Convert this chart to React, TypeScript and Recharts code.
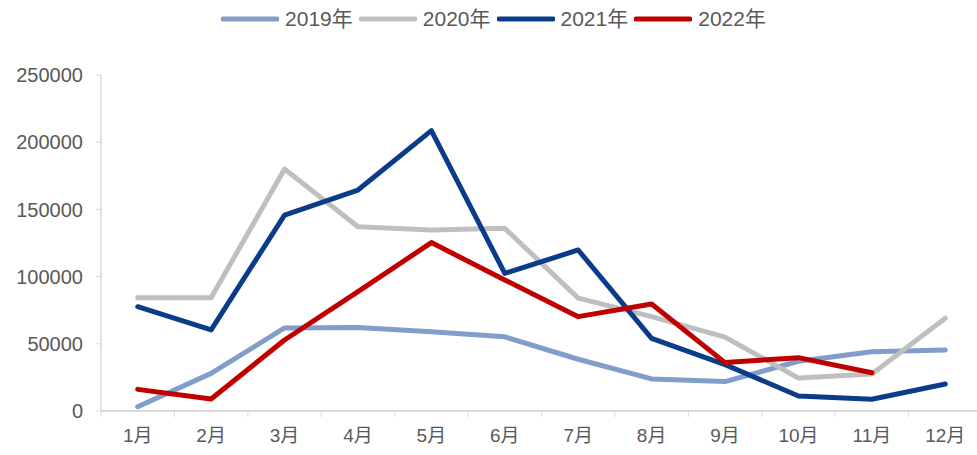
import React from 'react';
import { LineChart, Line, XAxis, YAxis, Legend } from 'recharts';

const months = ['1月', '2月', '3月', '4月', '5月', '6月', '7月', '8月', '9月', '10月', '11月', '12月'];
const y2019 = [3200, 28000, 61800, 62200, 59000, 55200, 38500, 23900, 21900, 37000, 44100, 45400];
const y2020 = [84300, 84300, 180000, 137100, 134700, 135900, 84000, 70200, 55000, 24500, 27500, 69000];
const y2021 = [77600, 60300, 145800, 164400, 208600, 102400, 119800, 54000, 34500, 11200, 8700, 20100];
const y2022 = [16100, 8900, 52800, 88800, 125300, 97500, 70200, 79600, 36000, 39700, 28500, null];
const yTicks = [0, 50000, 100000, 150000, 200000, 250000];

const seriesNames = ['2019年', '2020年', '2021年', '2022年'];
const seriesColors = ['#819DC9', '#BFBFBF', '#0B3C8A', '#C00000'];

const data = months.map((m, i) => ({
  month: m,
  s2019: y2019[i],
  s2020: y2020[i],
  s2021: y2021[i],
  s2022: y2022[i],
}));

const FONT = '"Liberation Sans", Arial, "Noto Sans CJK SC", sans-serif';
const TEXT = '#595959';
const AXIS = '#D9D9D9';

const XTick = (props: any) => {
  const { x, y, payload, index, width, visibleTicksCount } = props;
  const n = visibleTicksCount || months.length;
  const band = (width || 880) / n;
  const left = x - band / 2;
  return (
    <g>
      <line x1={left} y1={y - 6} x2={left} y2={y} stroke={AXIS} strokeWidth={1} />
      {index === n - 1 && (
        <line x1={x + band / 2} y1={y - 6} x2={x + band / 2} y2={y} stroke={AXIS} strokeWidth={1} />
      )}
      <text x={x} y={y + 25} textAnchor="middle" fill={TEXT} fontSize={19} fontFamily={FONT}>
        {payload.value}
      </text>
    </g>
  );
};

const renderLegend = () => (
  <div style={{ display: 'flex', justifyContent: 'center', alignItems: 'center', fontFamily: FONT }}>
    {seriesNames.map((name, i) => (
      <div key={name} style={{ display: 'flex', alignItems: 'center', marginRight: 6 }}>
        <svg width={58} height={8} style={{ marginRight: 6 }}>
          <line x1={2} y1={4} x2={56} y2={4} stroke={seriesColors[i]} strokeWidth={5} strokeLinecap="round" />
        </svg>
        <span style={{ fontSize: 21, color: TEXT, lineHeight: '24px' }}>{name}</span>
      </div>
    ))}
  </div>
);

export default function App() {
  const keys = ['s2019', 's2020', 's2021', 's2022'];
  return (
    <div style={{ position: 'absolute', left: 0, top: 0, width: 977, height: 455, overflow: 'hidden', background: '#fff' }}>
      <LineChart width={982} height={455} data={data} margin={{ top: 75, right: 0, bottom: 0, left: 0 }}>
        <XAxis
          dataKey="month"
          scale="band"
          interval={0}
          height={44}
          axisLine={{ stroke: AXIS, strokeWidth: 2 }}
          tickLine={false}
          tickSize={6}
          tickMargin={0}
          tick={<XTick />}
        />
        <YAxis
          width={101}
          domain={[0, 250000]}
          ticks={yTicks}
          interval={0}
          axisLine={{ stroke: AXIS, strokeWidth: 1.5 }}
          tickLine={{ stroke: AXIS }}
          tickSize={5}
          tickMargin={13}
          tick={{ fill: TEXT, fontSize: 20, fontFamily: FONT }}
        />
        <Legend
          verticalAlign="middle"
          align="center"
          content={renderLegend}
          wrapperStyle={{ top: 7, left: 8, width: 977, height: 26 }}
        />
        {keys.map((k, i) => (
          <Line
            key={k}
            dataKey={k}
            name={seriesNames[i]}
            stroke={seriesColors[i]}
            strokeWidth={5}
            dot={false}
            activeDot={false}
            strokeLinejoin="round"
            strokeLinecap="round"
            isAnimationActive={false}
            connectNulls={false}
          />
        ))}
      </LineChart>
    </div>
  );
}
